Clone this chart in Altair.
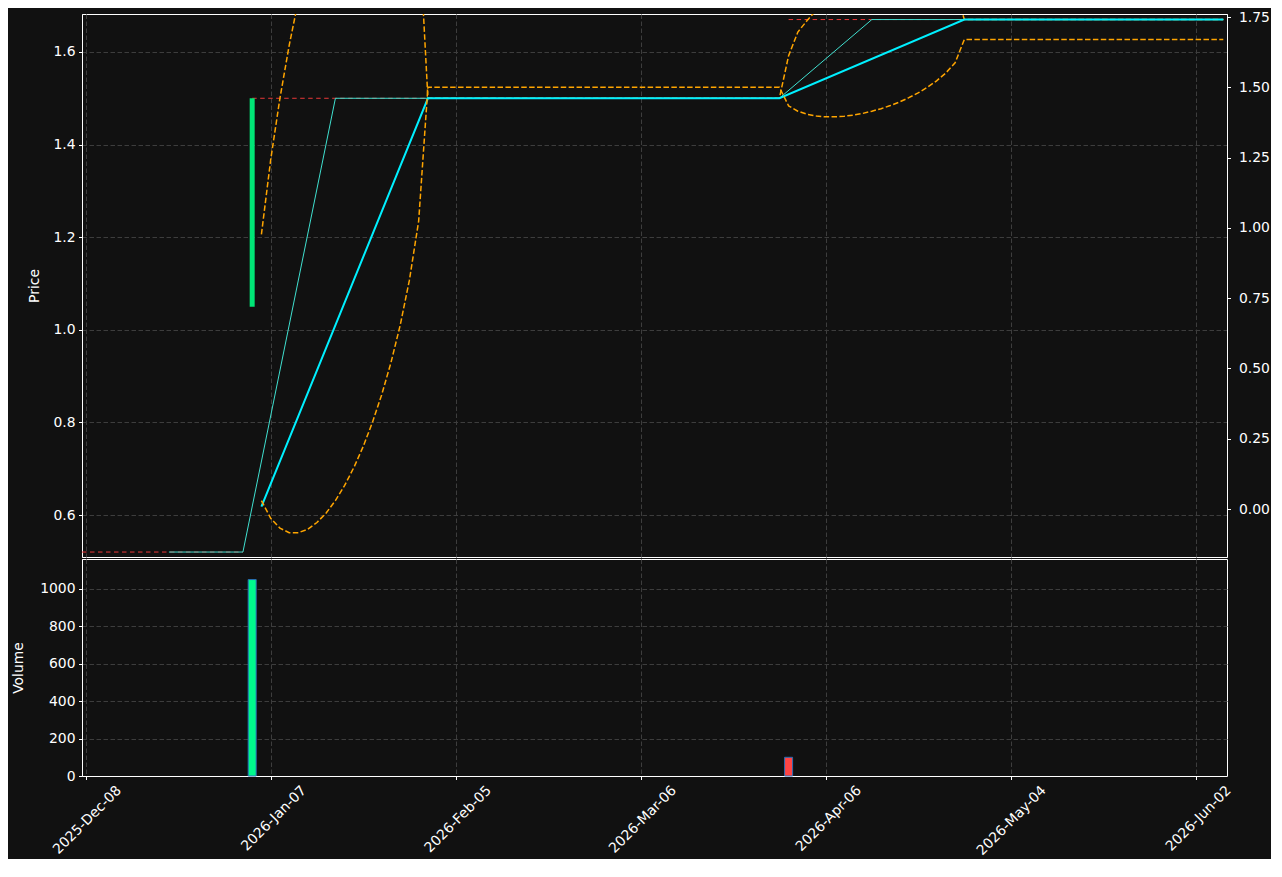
import json
import altair as alt
import pandas as pd

# ---------------- data ----------------
tick_idx = [0, 20, 40, 60, 80, 100, 120]
tick_labels = ["2025-Dec-08", "2026-Jan-07", "2026-Feb-05", "2026-Mar-06",
               "2026-Apr-06", "2026-May-04", "2026-Jun-02"]

candle_i = [18]
candle_open = [1.05]
candle_close = [1.50]

vol_i = [18, 76]
vol_v = [1050, 100]
vol_dir = ["up", "down"]

level_start = [-0.4, 18, 76]
level_end = [17, 75, 123]
level_price = [0.52, 1.50, 1.67]

ma10_i = [9, 17, 27, 75, 85, 123]
ma10_v = [0.52, 0.52, 1.50, 1.50, 1.67, 1.67]

ma20_i = [19, 37, 75, 95, 123]
ma20_v = [0.618, 1.50, 1.50, 1.67, 1.67]

band_i = [19, 20, 21, 22, 23, 24, 25, 26, 27, 28, 29, 30, 31, 32, 33, 34, 35, 36, 37,
          75,
          76, 77, 78, 79, 80, 81, 82, 83, 84, 85, 86, 87, 88, 89, 90, 91, 92, 93, 94, 95,
          123]
upper_v = [1.206, 1.367, 1.500, 1.614, 1.712, 1.798, 1.872, 1.936, 1.990, 2.034,
           2.068, 2.092, 2.104, 2.104, 2.088, 2.053, 1.990, 1.878, 1.500,
           1.500,
           1.592, 1.643, 1.668, 1.690, 1.707, 1.722, 1.735, 1.746, 1.755, 1.763,
           1.769, 1.773, 1.775, 1.776, 1.775, 1.772, 1.766, 1.755, 1.736, 1.670,
           1.670]
lower_v = [0.030, -0.033, -0.068, -0.084, -0.084, -0.072, -0.048, -0.014, 0.030, 0.084,
           0.148, 0.222, 0.308, 0.406, 0.520, 0.653, 0.814, 1.024, 1.500,
           1.500,
           1.434, 1.415, 1.404, 1.398, 1.395, 1.395, 1.397, 1.401, 1.407, 1.415,
           1.424, 1.435, 1.448, 1.463, 1.480, 1.500, 1.523, 1.551, 1.587, 1.670,
           1.670]

price_ticks = [0.6, 0.8, 1.0, 1.2, 1.4, 1.6]
right_ticks = [0.0, 0.25, 0.5, 0.75, 1.0, 1.25, 1.5, 1.75]
vol_ticks = [0, 200, 400, 600, 800, 1000]

# ---------------- styling ----------------
BG = "#111111"
FONT = "DejaVu Sans"
FS = 13.9
GRID = "#3d3d3d"
GDASH = [4.5, 2.5]

xscale = alt.Scale(domain=[-0.4, 123.4], nice=False, zero=False, padding=0)
price_scale = alt.Scale(domain=[0.5093, 1.682], nice=False, zero=False, padding=0)
right_scale = alt.Scale(domain=[-0.1707, 1.7607], nice=False, zero=False, padding=0)
vol_scale = alt.Scale(domain=[0, 1160], nice=False, zero=True, padding=0)

label_expr = "%s[round(datum.value / 20)]" % json.dumps(tick_labels)

x_top_axis = alt.Axis(values=tick_idx, labels=False, ticks=False, domain=False,
                      title=None, grid=True, minExtent=0, maxExtent=0)
y_left_axis = alt.Axis(values=price_ticks, format=".1f", title="Price", grid=True,
                       minExtent=29, maxExtent=29, titlePadding=12)
y_right_axis = alt.Axis(orient="right", values=right_ticks, format=".2f", title=None,
                        grid=False, minExtent=43, maxExtent=43, labelPadding=8)

levels_df = pd.DataFrame({"i": level_start, "i2": level_end, "p": level_price})
candle_df = pd.DataFrame({"i": candle_i, "o": candle_open, "c": candle_close})
ma10_df = pd.DataFrame({"i": ma10_i, "p": ma10_v})
ma20_df = pd.DataFrame({"i": ma20_i, "p": ma20_v})
band_df = pd.DataFrame({"i": band_i, "up": upper_v, "lo": lower_v})
vol_df = pd.DataFrame({"i": vol_i, "v": vol_v, "d": vol_dir})

xenc = alt.X("i:Q", scale=xscale, axis=x_top_axis)

red = alt.Chart(levels_df).mark_rule(
    color="#e83838", strokeWidth=1, strokeDash=[4.5, 3.5], clip=True
).encode(x=xenc, x2="i2:Q", y=alt.Y("p:Q", scale=price_scale, axis=y_left_axis))

candle = alt.Chart(candle_df).mark_bar(size=5, color="#00e676", clip=True).encode(
    x=xenc, y=alt.Y("o:Q", scale=price_scale, axis=y_left_axis), y2="c:Q")

upper = alt.Chart(band_df).mark_line(
    color="#ffa500", strokeWidth=1.5, strokeDash=[5.5, 2.4], clip=True
).encode(x=xenc, y=alt.Y("up:Q", scale=price_scale, axis=y_left_axis))

ma10 = alt.Chart(ma10_df).mark_line(color="#40e0d0", strokeWidth=1, clip=True).encode(
    x=xenc, y=alt.Y("p:Q", scale=price_scale, axis=y_left_axis))

ma20 = alt.Chart(ma20_df).mark_line(color="#00f0ff", strokeWidth=2, clip=True).encode(
    x=xenc, y=alt.Y("p:Q", scale=price_scale, axis=y_left_axis))

lower = alt.Chart(band_df).mark_line(
    color="#ffa500", strokeWidth=1.5, strokeDash=[5.5, 2.4], clip=True
).encode(x=xenc, y=alt.Y("lo:Q", scale=right_scale, axis=y_right_axis))

price = alt.layer(
    alt.layer(red, candle, upper, ma10, ma20), lower
).resolve_scale(y="independent").properties(width=1145, height=543)

vol = alt.Chart(vol_df).mark_bar(size=8, stroke="#2a6db5", strokeWidth=1).encode(
    x=alt.X("i:Q", scale=xscale,
            axis=alt.Axis(values=tick_idx, labelExpr=label_expr, labelAngle=-45,
                          labelAlign="right", labelBaseline="top", labelOffset=28,
                          labelPadding=3.5, labelFlush=False,
                          labelOverlap=False, grid=True, title=None)),
    y=alt.Y("v:Q", scale=vol_scale,
            axis=alt.Axis(values=vol_ticks, format="d", title="Volume", grid=True,
                          minExtent=42, maxExtent=42, titlePadding=15)),
    color=alt.Color("d:N", scale=alt.Scale(domain=["up", "down"],
                                           range=["#00fa8c", "#ff4444"]), legend=None),
).properties(width=1145, height=217)

chart = alt.vconcat(price, vol, spacing=0).properties(
    padding={"left": 2, "top": 1, "right": 0, "bottom": 0}
).configure(background=BG).configure_view(
    stroke="white", strokeWidth=1, fill=BG
).configure_axis(
    labelColor="white", titleColor="white", domainColor="white", tickColor="white",
    labelFont=FONT, titleFont=FONT, labelFontSize=FS, titleFontSize=FS,
    titleFontWeight="normal", gridColor=GRID, gridDash=GDASH, gridWidth=1,
    tickSize=3.5, labelPadding=3.5, domainWidth=1, tickWidth=1
)

chart.save("out.html", embed_options={"renderer": "svg", "actions": False})
